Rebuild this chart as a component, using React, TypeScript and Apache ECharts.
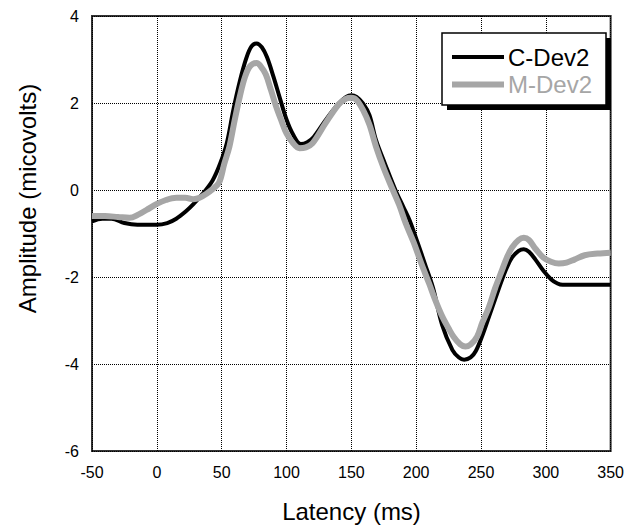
import React, { useEffect, useRef } from "react";
import * as echarts from "echarts";

const X_MIN = -50;
const X_MAX = 350;
const X_STEP = 50;
const Y_MIN = -6;
const Y_MAX = 4;
const Y_STEP = 2;

const seriesNames = ["C-Dev2", "M-Dev2"];
const xTitle = "Latency (ms)";
const yTitle = "Amplitude (micovolts)";

// [latency ms, amplitude µV]
const cDev2: [number, number][] = [
  [-50, -0.72], [-42, -0.66], [-35, -0.66], [-25, -0.76], [-15, -0.8], [0, -0.8],
  [8, -0.76], [15, -0.66], [22, -0.5], [28, -0.33], [35, -0.1], [43, 0.22],
  [49, 0.62], [54, 1.08], [59, 1.84], [64, 2.5], [69, 3.03], [73, 3.3],
  [77, 3.37], [81, 3.28], [85, 3.05], [90, 2.6], [95, 2.1], [100, 1.62],
  [105, 1.28], [111, 1.06], [116, 1.1], [121, 1.22], [130, 1.6], [140, 1.98],
  [146, 2.14], [150, 2.18], [154, 2.14], [159, 1.99], [164, 1.72], [169, 1.15],
  [176, 0.6], [184, 0.0], [190, -0.38], [195, -0.7], [201, -1.2], [207, -1.72],
  [213, -2.25], [220, -3.1], [228, -3.68], [233, -3.85], [237, -3.9], [242, -3.85],
  [246, -3.7], [251, -3.35], [256, -2.93], [261, -2.5], [266, -2.08], [270, -1.78],
  [274, -1.55], [279, -1.4], [283, -1.36], [287, -1.42], [292, -1.6], [298, -1.85],
  [304, -2.05], [309, -2.15], [313, -2.18], [330, -2.18], [350, -2.18],
];

const mDev2: [number, number][] = [
  [-50, -0.6], [-40, -0.6], [-30, -0.62], [-21, -0.64], [-14, -0.56], [-8, -0.46],
  [0, -0.32], [7, -0.23], [15, -0.18], [22, -0.18], [28, -0.21], [33, -0.18],
  [38, -0.09], [43, 0.02], [48, 0.17], [52, 0.6], [56, 1.0], [60, 1.6],
  [64, 2.15], [68, 2.6], [72, 2.85], [77, 2.92], [80, 2.85], [84, 2.66],
  [88, 2.3], [92, 1.92], [96, 1.6], [100, 1.3], [105, 1.08], [110, 0.96],
  [115, 0.98], [120, 1.07], [130, 1.53], [140, 1.96], [146, 2.1], [150, 2.12],
  [154, 2.07], [159, 1.84], [164, 1.5], [169, 1.0], [175, 0.5], [182, 0.0],
  [187, -0.35], [192, -0.77], [198, -1.2], [204, -1.69], [210, -2.15], [215, -2.55],
  [220, -2.9], [225, -3.18], [229, -3.38], [234, -3.55], [238, -3.6], [242, -3.55],
  [247, -3.37], [251, -3.05], [256, -2.7], [261, -2.25], [266, -1.86], [270, -1.55],
  [274, -1.32], [279, -1.15], [283, -1.1], [287, -1.15], [292, -1.35], [298, -1.55],
  [304, -1.65], [310, -1.69], [316, -1.67], [322, -1.6], [330, -1.5], [340, -1.46],
  [350, -1.44],
];

const FONT = "'Liberation Sans', Arial, sans-serif";
const BLACK = "#000000";
const GRAY = "#a6a6a6";
const seriesColors = [BLACK, GRAY];
const seriesWidths = [4, 6];

export default function App() {
  const ref = useRef<HTMLDivElement>(null);

  useEffect(() => {
    if (!ref.current) return;
    const chart = echarts.init(ref.current, null, { renderer: "svg" });

    const legendItems: any[] = [];
    seriesNames.forEach((name, i) => {
      const cy = 57 + i * 27.5;
      legendItems.push({
        type: "line",
        z: 102,
        shape: { x1: 452, y1: cy, x2: 504, y2: cy },
        style: { stroke: seriesColors[i], lineWidth: seriesWidths[i] },
      });
      legendItems.push({
        type: "text",
        z: 102,
        x: 508,
        y: cy,
        style: {
          text: name,
          fontSize: 24,
          fontFamily: FONT,
          fill: seriesColors[i],
          align: "left",
          verticalAlign: "middle",
        },
      });
    });

    chart.setOption({
      animation: false,
      backgroundColor: "#ffffff",
      grid: {
        left: 92,
        top: 16,
        right: 15,
        bottom: 80,
        show: true,
        borderColor: "#333333",
        borderWidth: 2,
        backgroundColor: "transparent",
      },
      xAxis: {
        type: "value",
        min: X_MIN,
        max: X_MAX,
        interval: X_STEP,
        axisLine: { show: false },
        axisTick: { show: false },
        axisLabel: { color: "#000", fontSize: 16, fontFamily: FONT, margin: 13 },
        splitLine: { show: true, lineStyle: { color: "#000", width: 1, type: [1, 1] } },
      },
      yAxis: {
        type: "value",
        min: Y_MIN,
        max: Y_MAX,
        interval: Y_STEP,
        axisLine: { show: false },
        axisTick: { show: false },
        axisLabel: { color: "#000", fontSize: 16, fontFamily: FONT, margin: 13 },
        splitLine: { show: true, lineStyle: { color: "#000", width: 1, type: [1, 1] } },
      },
      graphic: {
        elements: [
          {
            type: "rect",
            z: 101,
            shape: { x: 442, y: 33, width: 164, height: 72 },
            style: { fill: "#fff", stroke: "#000", lineWidth: 1.5 },
          },
          {
            type: "rect",
            z: 102,
            shape: { x: 606, y: 38, width: 5, height: 72 },
            style: { fill: "#000" },
          },
          {
            type: "rect",
            z: 102,
            shape: { x: 447, y: 105, width: 164, height: 5 },
            style: { fill: "#000" },
          },
          ...legendItems,
          {
            type: "text",
            x: 351.5,
            y: 511.5,
            style: {
              text: xTitle,
              fontSize: 24,
              fontFamily: FONT,
              fill: "#000",
              align: "center",
              verticalAlign: "middle",
            },
          },
          {
            type: "text",
            x: 27.5,
            y: 198.5,
            rotation: Math.PI / 2,
            style: {
              text: yTitle,
              fontSize: 24,
              fontFamily: FONT,
              fill: "#000",
              align: "center",
              verticalAlign: "middle",
            },
          },
        ],
      },
      series: [
        {
          name: seriesNames[0],
          type: "line",
          data: cDev2,
          symbol: "none",
          smooth: 0.35,
          color: BLACK,
          lineStyle: { color: BLACK, width: 4 },
          z: 2,
        },
        {
          name: seriesNames[1],
          type: "line",
          data: mDev2,
          symbol: "none",
          smooth: 0.35,
          color: GRAY,
          lineStyle: { color: GRAY, width: 6 },
          z: 3,
        },
      ],
    });
    return () => chart.dispose();
  }, []);

  return (
    <div
      ref={ref}
      style={{ position: "fixed", left: 0, top: 0, width: 627, height: 531, background: "#fff" }}
    />
  );
}
